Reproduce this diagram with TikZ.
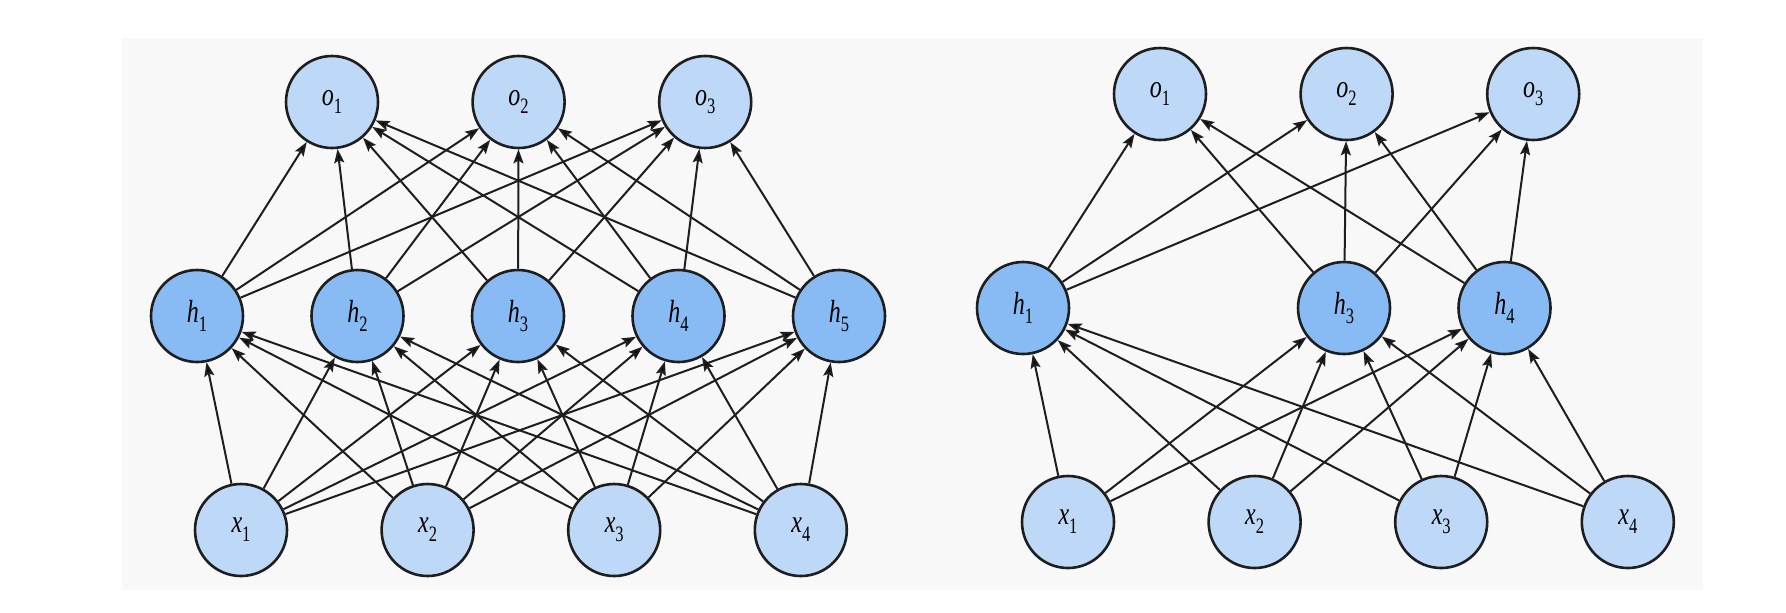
\documentclass[tikz,border=0pt]{standalone}
\usepackage{fontspec}
\setmainfont{Liberation Serif}
\usepackage{graphicx}
\usetikzlibrary{positioning,arrows.meta}
\definecolor{paper}{RGB}{248,248,248}
\definecolor{pale}{RGB}{190,216,247}
\definecolor{deep}{RGB}{136,187,244}
\definecolor{rim}{RGB}{30,30,30}
\newcommand{\nv}[2]{\scalebox{0.75}[1]{\fontsize{16}{16}\selectfont\textit{#1}\raisebox{-0.6ex}{\fontsize{11}{11}\selectfont #2}}}
\tikzset{light node/.style={circle,fill=pale,draw=rim,line width=1.3pt,minimum size=46pt,inner sep=0pt},
         dark node/.style={light node,fill=deep},
         link/.style={draw=rim,line width=1pt,-{Stealth[length=7pt,width=5pt,inset=1.3pt]}},
            }

\begin{document}
\begin{tikzpicture}[x=0.5pt,y=-0.5pt,on grid]
    \useasboundingbox (0,0) rectangle (1786,612);
    \fill[paper] (122,38) rectangle (1703,590);

    % full network
    \node[light node] (x1) at (241,530) {\nv{x}{1}};
    \node[light node] (x2) [right = 93.3pt of x1] {\nv{x}{2}};
    \node[light node] (x3) [right = 93.3pt of x2] {\nv{x}{3}};
    \node[light node] (x4) [right = 93.3pt of x3] {\nv{x}{4}};

    \node[dark node] (h1) at (197,316) {\nv{h}{1}};
    \node[dark node] (h2) [right = 80.25pt of h1] {\nv{h}{2}};
    \node[dark node] (h3) [right = 80.25pt of h2] {\nv{h}{3}};
    \node[dark node] (h4) [right = 80.25pt of h3] {\nv{h}{4}};
    \node[dark node] (h5) [right = 80.25pt of h4] {\nv{h}{5}};

    \node[light node] (o1) at (332,102) {\nv{o}{1}};
    \node[light node] (o2) [right = 93.3pt of o1] {\nv{o}{2}};
    \node[light node] (o3) [right = 93.3pt of o2] {\nv{o}{3}};

    \path[link]
    (x1) edge (h1) (x1) edge (h2) (x1) edge (h3) (x1) edge (h4) (x1) edge (h5)
    (x2) edge (h1) (x2) edge (h2) (x2) edge (h3) (x2) edge (h4) (x2) edge (h5)
    (x3) edge (h1) (x3) edge (h2) (x3) edge (h3) (x3) edge (h4) (x3) edge (h5)
    (x4) edge (h1) (x4) edge (h2) (x4) edge (h3) (x4) edge (h4) (x4) edge (h5);

    \path[link]
    (h1) edge (o1) (h1) edge (o2) (h1) edge (o3)
    (h2) edge (o1) (h2) edge (o2) (h2) edge (o3)
    (h3) edge (o1) (h3) edge (o2) (h3) edge (o3)
    (h4) edge (o1) (h4) edge (o2) (h4) edge (o3)
    (h5) edge (o1) (h5) edge (o2) (h5) edge (o3);

    % with dropout
    \node[light node] (dx1) at (1068,522) {\nv{x}{1}};
    \node[light node] (dx2) [right = 93.3pt of dx1] {\nv{x}{2}};
    \node[light node] (dx3) [right = 93.3pt of dx2] {\nv{x}{3}};
    \node[light node] (dx4) [right = 93.3pt of dx3] {\nv{x}{4}};

    \node[dark node] (dh1) at (1023,308) {\nv{h}{1}};
    \node[dark node] (dh3) [right = 160.5pt of dh1] {\nv{h}{3}};
    \node[dark node] (dh4) [right = 80.25pt of dh3] {\nv{h}{4}};

    \node[light node] (do1) at (1160,94) {\nv{o}{1}};
    \node[light node] (do2) [right = 93.3pt of do1] {\nv{o}{2}};
    \node[light node] (do3) [right = 93.3pt of do2] {\nv{o}{3}};

    \path[link]
    (dx1) edge (dh1) (dx1) edge (dh3) (dx1) edge (dh4)
    (dx2) edge (dh1) (dx2) edge (dh3) (dx2) edge (dh4)
    (dx3) edge (dh1) (dx3) edge (dh3) (dx3) edge (dh4)
    (dx4) edge (dh1) (dx4) edge (dh3) (dx4) edge (dh4);

    \path[link]
    (dh1) edge (do1) (dh1) edge (do2) (dh1) edge (do3)
    (dh3) edge (do1) (dh3) edge (do2) (dh3) edge (do3)
    (dh4) edge (do1) (dh4) edge (do2) (dh4) edge (do3);

\end{tikzpicture}
\end{document}
